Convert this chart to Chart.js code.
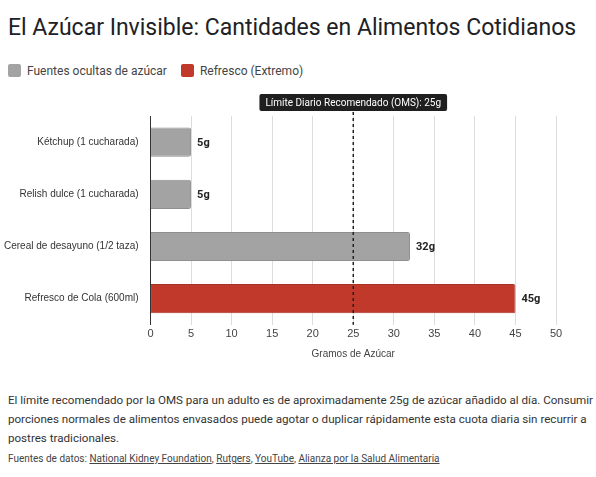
<!DOCTYPE html>
<html>
<head>
<meta charset="utf-8">
<script src="https://cdn.jsdelivr.net/npm/chart.js@4.4.0/dist/chart.umd.min.js"></script>
<style>
  body { margin: 0; font-family: Roboto, "Noto Sans", sans-serif; color: #222; background: #fff; }
  h1 { font-weight: 400; font-size: 23px; margin: 0; position: absolute; left: 8px; top: 14px; color: #202124; }
  #legend { position: absolute; left: 8px; top: 64px; font-size: 12px; color: #444; display: flex; gap: 14px; }
  #legend span.sw { display: inline-block; width: 13px; height: 13px; border-radius: 2px; vertical-align: -2px; margin-right: 6px; }
  #wrap { position: absolute; left: 0; top: 94px; width: 580px; height: 270px; }
  #desc { position: absolute; left: 8px; top: 391px; width: 586px; font-size: 11.6px; line-height: 19px; color: #333; margin: 0; }
  #src { position: absolute; left: 8px; top: 453px; font-size: 10px; color: #444; }
  #src a { color: #444; }
</style>
</head>
<body>
<h1>El Azúcar Invisible: Cantidades en Alimentos Cotidianos</h1>
<div id="legend">
  <div><span class="sw" style="background:#a3a3a3"></span>Fuentes ocultas de azúcar</div>
  <div><span class="sw" style="background:#c0392b"></span>Refresco (Extremo)</div>
</div>
<div id="wrap"><canvas id="chart"></canvas></div>
<p id="desc">El límite recomendado por la OMS para un adulto es de aproximadamente 25g de azúcar añadido al día. Consumir porciones normales de alimentos envasados puede agotar o duplicar rápidamente esta cuota diaria sin recurrir a postres tradicionales.</p>
<div id="src">Fuentes de datos: <a href="#">National Kidney Foundation</a>, <a href="#">Rutgers</a>, <a href="#">YouTube</a>, <a href="#">Alianza por la Salud Alimentaria</a></div>
<script>
// Data
const categories = ['Kétchup (1 cucharada)', 'Relish dulce (1 cucharada)', 'Cereal de desayuno (1/2 taza)', 'Refresco de Cola (600ml)'];
const sugarGrams = [5, 5, 32, 45];
const barKinds = ['hidden', 'hidden', 'hidden', 'extreme'];
const whoLimit = 25;
const whoLabel = 'Límite Diario Recomendado (OMS): 25g';

const KIND_COLORS = { hidden: '#a3a3a3', extreme: '#c0392b' };
const KIND_BORDERS = { hidden: '#8f8f8f', extreme: '#a93226' };

// Value labels + WHO line
const overlayPlugin = {
    id: 'overlay',
    afterDatasetsDraw(chart) {
        const ctx = chart.ctx;
        const meta = chart.getDatasetMeta(0);
        ctx.save();
        ctx.font = 'bold 11px Roboto, sans-serif';
        ctx.fillStyle = '#222';
        ctx.textBaseline = 'middle';
        meta.data.forEach((bar, i) => {
            ctx.fillText(sugarGrams[i] + 'g', bar.x + 6, bar.y + 1);
        });

        const x = chart.scales.x.getPixelForValue(whoLimit);
        const area = chart.chartArea;
        ctx.strokeStyle = '#222';
        ctx.lineWidth = 1.5;
        ctx.setLineDash([3, 3]);
        ctx.beginPath();
        ctx.moveTo(x, area.top - 4);
        ctx.lineTo(x, area.bottom);
        ctx.stroke();
        ctx.setLineDash([]);

        ctx.font = '10px Roboto, sans-serif';
        const w = ctx.measureText(whoLabel).width + 12;
        const h = 17;
        const top = area.top - 22;
        ctx.fillStyle = '#1f1f1f';
        ctx.beginPath();
        ctx.roundRect(x - w / 2, top, w, h, 2);
        ctx.fill();
        ctx.fillStyle = '#fff';
        ctx.textAlign = 'center';
        ctx.fillText(whoLabel, x, top + h / 2 + 1);
        ctx.restore();
    }
};

new Chart(document.getElementById('chart'), {
    type: 'bar',
    data: {
        labels: categories,
        datasets: [{
            data: sugarGrams,
            backgroundColor: barKinds.map(k => KIND_COLORS[k]),
            borderColor: barKinds.map(k => KIND_BORDERS[k]),
            borderWidth: 1,
            borderRadius: 2,
            borderSkipped: 'start',
            barPercentage: 0.56,
            categoryPercentage: 1.0
        }]
    },
    options: {
        indexAxis: 'y',
        responsive: true,
        maintainAspectRatio: false,
        animation: false,
        layout: { padding: { top: 22, right: 24 } },
        plugins: { legend: { display: false }, tooltip: { enabled: false } },
        scales: {
            x: {
                min: 0, max: 50,
                ticks: { stepSize: 5, color: '#444', font: { size: 11 } },
                grid: { color: '#dcdcdc', drawTicks: false },
                border: { display: false },
                title: { display: true, text: 'Gramos de Azúcar', color: '#444', font: { size: 10 } }
            },
            y: {
                ticks: { color: '#333', font: { size: 10 }, padding: 4 },
                grid: { display: false },
                border: { color: '#333' }
            }
        }
    },
    plugins: [overlayPlugin]
});
</script>
</body>
</html>
